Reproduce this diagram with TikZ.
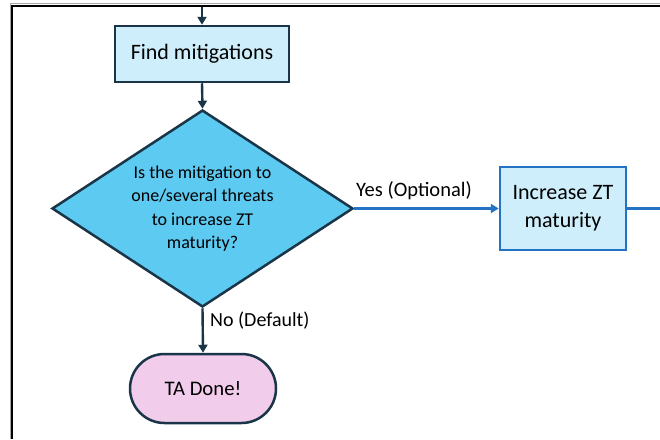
\documentclass[tikz,border=0pt]{standalone}
\usepackage{fontspec}
\setmainfont{Carlito}
\usetikzlibrary{arrows.meta,shapes.geometric,shapes.misc}

\definecolor{inkdark}{HTML}{1A3548}
\definecolor{paleblue}{HTML}{CDEEFA}
\definecolor{skyblue}{HTML}{5DCAF2}
\definecolor{linkblue}{HTML}{2372C4}
\definecolor{palepink}{HTML}{F1CDEB}
\definecolor{framegray}{HTML}{A8A8A8}

\tikzset{
  procbox/.style={draw=inkdark, line width=2.5pt, fill=paleblue, inner sep=0pt, align=center},
  altbox/.style={draw=linkblue, line width=2.5pt, fill=paleblue, inner sep=0pt, align=center},
  decision/.style={diamond, draw=inkdark, line width=2.5pt, fill=skyblue, inner sep=0pt,
    aspect=1.53, align=center, font=\fontsize{18}{23.5}\selectfont},
  terminal/.style={rounded rectangle, draw=inkdark, line width=2.5pt, fill=palepink, inner sep=0pt},
  flow/.style={draw=inkdark, line width=2.4pt, -{Triangle[length=8pt,width=9pt]}},
  altflow/.style={draw=linkblue, line width=2.4pt, -{Triangle[length=8pt,width=9pt]}},
  edgelabel/.style={inner sep=0pt, anchor=west, font=\fontsize{20.5}{24}\selectfont},
}

\begin{document}
\begin{tikzpicture}[x=1pt, y=-1pt]
  \useasboundingbox (0,0) rectangle (660,439);
  \fill[white] (0,0) rectangle (660,439);

  % frame edges
  \draw[framegray, line width=1pt] (10,439) -- (10,3.8) -- (660,3.8);
  \draw[black, line width=2.2pt] (12,439) -- (12,5.8) -- (660,5.8);

  % nodes
  \node[procbox, minimum width=174pt, minimum height=56pt,
        font=\fontsize{22}{26}\selectfont] (find) at (202,54) {Find mitigations};
  \node[decision, minimum width=301pt, minimum height=197pt] (ask) at (202.5,208.5)
    {Is the mitigation to\\one/several threats\\to increase ZT\\maturity?};
  \node[altbox, minimum width=126pt, minimum height=83pt,
        font=\fontsize{22}{28}\selectfont] (zt) at (563,208.5) {Increase ZT\\maturity};
  \node[terminal, minimum width=146pt, minimum height=69pt,
        font=\fontsize{20.7}{24}\selectfont] (done) at (203,388.5) {TA Done!};

  % connectors
  \coordinate (entry) at (202,6.8);
  \coordinate (exit) at (662,208.5);
  \draw[flow] (entry) -- (find.north);
  \draw[flow] (find.south) -- (ask.north);
  \draw[altflow] (ask.east) -- (zt.west);
  \draw[linkblue, line width=2.4pt] (zt.east) -- (exit);
  \draw[flow] (ask.south) -- (done.north);

  % branch labels
  \node[edgelabel] (yeslbl) at (356,191) {Yes (Optional)};
  \node[edgelabel, font=\fontsize{20}{24}\selectfont] (nolbl) at (210,321) {No (Default)};
\end{tikzpicture}
\end{document}
